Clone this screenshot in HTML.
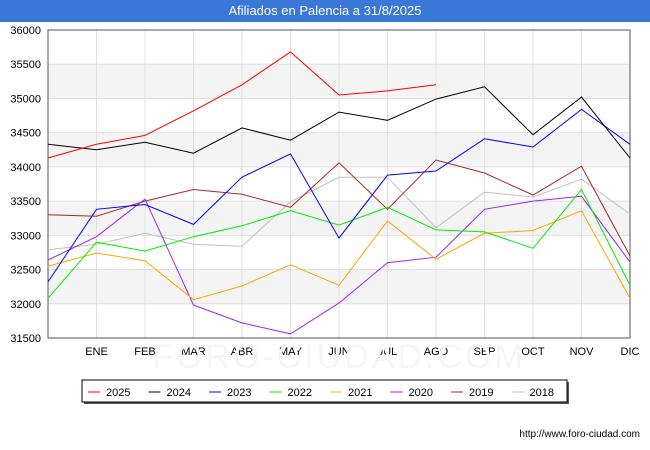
<!DOCTYPE html>
<html><head><meta charset="utf-8">
<style>
body{margin:0;background:#fff;font-family:"Liberation Sans",sans-serif;}
#wrap{position:relative;width:650px;height:450px;}
#title{position:absolute;left:0;top:0;width:650px;height:22px;background:#3a78d8;color:#fff;font-size:13px;text-align:center;line-height:22px;}
</style></head><body>
<div id="wrap">
<div id="title">Afiliados en Palencia a 31/8/2025</div>
<svg id="svg" width="650" height="450" style="position:absolute;left:0;top:0"></svg>
</div>
<script>
const months=["","ENE","FEB","MAR","ABR","MAY","JUN","JUL","AGO","SEP","OCT","NOV","DIC"];
const yTicks=[31500,32000,32500,33000,33500,34000,34500,35000,35500,36000];
const seriesNames=["2025","2024","2023","2022","2021","2020","2019","2018"];
const seriesColors=["#ff0000","#000000","#0000ff","#00ee00","#ffa500","#a020f0","#a52a2a","#c0c0c0"];
const s2025=[34130,34330,34460,34820,35200,35680,35050,35110,35200];
const s2024=[34330,34250,34360,34200,34570,34390,34800,34680,34990,35170,34470,35020,34130];
const s2023=[32320,33380,33450,33160,33850,34190,32960,33880,33940,34410,34290,34840,34330];
const s2022=[32080,32900,32770,32980,33140,33360,33150,33410,33080,33050,32810,33670,32270];
const s2021=[32550,32740,32630,32060,32260,32570,32270,33210,32650,33030,33070,33360,32080];
const s2020=[32640,32980,33530,31980,31720,31560,32010,32600,32680,33380,33500,33570,32610];
const s2019=[33300,33280,33500,33670,33600,33410,34060,33380,34100,33910,33590,34010,32700];
const s2018=[32790,32870,33030,32870,32840,33490,33850,33850,33110,33630,33560,33820,33310];
const seriesData=[s2025,s2024,s2023,s2022,s2021,s2020,s2019,s2018];

const svg=document.getElementById('svg');
const NS="http://www.w3.org/2000/svg";
const L=48,R=630,T=30,B=338,yMin=31500,yMax=36000;
const xs=i=>L+i*(R-L)/12;
const ys=v=>B-(v-yMin)/(yMax-yMin)*(B-T);
function mk(tag,attrs,parent){const e=document.createElementNS(NS,tag);for(const k in attrs)e.setAttribute(k,attrs[k]);(parent||svg).appendChild(e);return e;}

for(let i=0;i<yTicks.length-1;i++){
  if(i%2===1){
    const b=mk('rect',{x:L,y:ys(yTicks[i+1]),width:R-L,height:ys(yTicks[i])-ys(yTicks[i+1]),fill:'#f4f4f4'});
    
    
  }
}
yTicks.forEach(v=>{
  const g=mk('line',{x1:L,x2:R,y1:ys(v),y2:ys(v),stroke:'#e0e0e0','stroke-width':1});
  
  
  const t=mk('text',{x:L-7,y:ys(v)+4,'text-anchor':'end','font-size':11,fill:'#000'});
  t.textContent=v;
  
  
});
for(let i=0;i<=12;i++){
  const g=mk('line',{x1:xs(i),x2:xs(i),y1:T,y2:B,stroke:'#e0e0e0','stroke-width':1});
  
  
  if(months[i]){
    const t=mk('text',{x:xs(i),y:B+17,'text-anchor':'middle','font-size':11,fill:'#000'});
    t.textContent=months[i];
    
    
  }
}
const ax=mk('rect',{x:L,y:T,width:R-L,height:B-T,fill:'none',stroke:'#555','stroke-width':1});


const wm=mk('text',{x:339,y:368,'text-anchor':'middle','font-size':34,fill:'#f6f6f6','letter-spacing':3});
wm.textContent="FORO-CIUDAD.COM";



for(let s=seriesData.length-1;s>=0;s--){
  const d=seriesData[s].map((v,i)=>(i?'L':'M')+xs(i).toFixed(1)+','+ys(v).toFixed(1)).join('');
  const p=mk('path',{d:d,fill:'none',stroke:seriesColors[s],'stroke-width':1});
  
  
}
const lg=mk('g',{});


mk('rect',{x:84,y:382,width:485,height:22,fill:'#555'},lg);
mk('rect',{x:82,y:380,width:485,height:22,fill:'#fff',stroke:'#000','stroke-width':1},lg);
seriesNames.forEach((n,i)=>{
  const x0=88+i*60.5;
  const e=mk('g',{},lg);
  
  
  mk('line',{x1:x0,x2:x0+12,y1:392,y2:392,stroke:seriesColors[i],'stroke-width':1},e);
  const t=mk('text',{x:x0+18,y:396,'font-size':11,fill:'#000'},e);
  t.textContent=n;
});
const u=mk('text',{x:640,y:437,'text-anchor':'end','font-size':10,fill:'#000'});
u.textContent="http://www.foro-ciudad.com";


</script>
</body></html>
